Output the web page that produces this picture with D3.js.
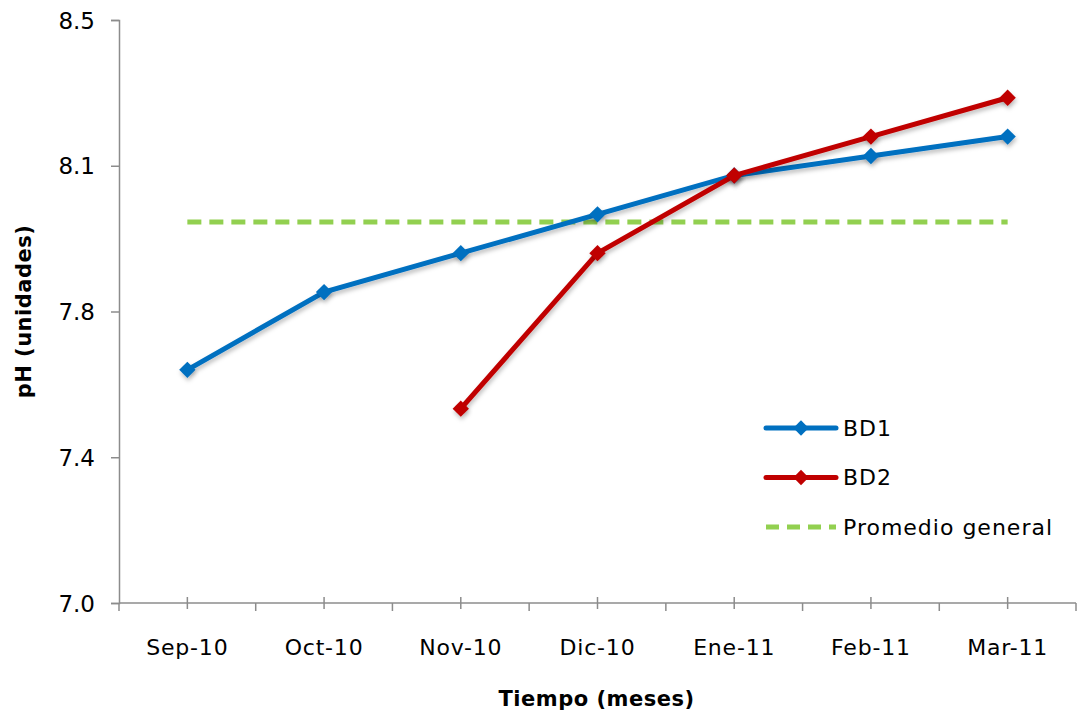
<!DOCTYPE html>
<html>
<head>
<meta charset="utf-8">
<script src="https://cdn.jsdelivr.net/npm/d3@7"></script>
<style>
  body { margin: 0; background: #fff; }
  svg text { font-family: "Century Gothic", "URW Gothic", "DejaVu Sans", sans-serif; fill: #000; }
</style>
</head>
<body>
<script>
// Data
const months = ["Sep-10", "Oct-10", "Nov-10", "Dic-10", "Ene-11", "Feb-11", "Mar-11"];
const bd1 = [7.60, 7.80, 7.90, 8.00, 8.10, 8.15, 8.20];
const bd2 = [null, null, 7.50, 7.90, 8.10, 8.20, 8.30];
const promedio = [7.98, 7.98, 7.98, 7.98, 7.98, 7.98, 7.98];
const yTicks = [7.0, 7.375, 7.75, 8.125, 8.5];
const yTickLabels = ["7.0", "7.4", "7.8", "8.1", "8.5"];

const width = 1078, height = 714;
const margin = { top: 20, right: 2, bottom: 111, left: 119 };
const axisColor = "#8c8c8c";

const svg = d3.select("body").append("svg")
    .attr("width", width)
    .attr("height", height);

// soft shadow like the original markers
const defs = svg.append("defs");
const f = defs.append("filter").attr("id", "shadow")
    .attr("x", "-20%").attr("y", "-20%").attr("width", "140%").attr("height", "160%");
f.append("feDropShadow").attr("dx", 1).attr("dy", 3).attr("stdDeviation", 2)
    .attr("flood-color", "#000").attr("flood-opacity", 0.25);

const x = d3.scaleBand()
    .domain(months)
    .range([margin.left, width - margin.right]);
const cx = m => x(m) + x.bandwidth() / 2;

const y = d3.scaleLinear()
    .domain([7.0, 8.5])
    .range([height - margin.bottom, margin.top]);

// Y axis
const yAxis = svg.append("g")
    .attr("transform", `translate(${margin.left},0)`)
    .call(d3.axisLeft(y).tickValues(yTicks).tickSize(8).tickPadding(16)
        .tickFormat((d, i) => yTickLabels[i]));
yAxis.select(".domain").attr("stroke", axisColor).attr("stroke-width", 1.5);
yAxis.selectAll(".tick line").attr("stroke", axisColor).attr("stroke-width", 1.5);
yAxis.selectAll(".tick text").style("font-size", "23px").attr("dy", "0.35em");

// X axis
const y0 = y(7.0);
const xAxis = svg.append("g").attr("transform", `translate(0,${y0})`);
xAxis.append("line")
    .attr("x1", margin.left).attr("x2", width - margin.right)
    .attr("stroke", axisColor).attr("stroke-width", 1.5);
// boundary ticks
xAxis.selectAll(".bt").data(months.concat(["end"])).join("line")
    .attr("class", "bt")
    .attr("x1", (d, i) => i < months.length ? x(d) : x.range()[1])
    .attr("x2", (d, i) => i < months.length ? x(d) : x.range()[1])
    .attr("y1", 0).attr("y2", 8)
    .attr("stroke", axisColor).attr("stroke-width", 1.5);
// center ticks
xAxis.selectAll(".ct").data(months).join("line")
    .attr("class", "ct")
    .attr("x1", d => cx(d)).attr("x2", d => cx(d))
    .attr("y1", -6).attr("y2", 6)
    .attr("stroke", axisColor).attr("stroke-width", 1.5);
xAxis.selectAll(".lbl").data(months).join("text")
    .attr("class", "lbl")
    .attr("x", d => cx(d))
    .attr("y", 52)
    .attr("text-anchor", "middle")
    .style("font-size", "22px")
    .style("letter-spacing", "0.8px")
    .text(d => d);

// Axis titles
svg.append("text")
    .attr("x", (margin.left + width - margin.right) / 2 - 1)
    .attr("y", 706)
    .attr("text-anchor", "middle")
    .style("font-size", "21px").style("font-weight", "bold")
    .style("letter-spacing", "0.5px")
    .text("Tiempo (meses)");
svg.append("text")
    .attr("transform", `translate(31,${(margin.top + y0) / 2}) rotate(-90)`)
    .attr("text-anchor", "middle")
    .style("font-size", "21px").style("font-weight", "bold")
    .style("letter-spacing", "0.5px")
    .text("pH (unidades)");

const line = d3.line()
    .defined(d => d.v != null)
    .x(d => cx(d.m))
    .y(d => y(d.v));

const series = [
    { name: "BD1", values: bd1, color: "#0070c0", dash: null, marker: true },
    { name: "BD2", values: bd2, color: "#c00000", dash: null, marker: true },
    { name: "Promedio general", values: promedio, color: "#92d050", dash: "14,8", marker: false }
];

// draw the average line first, then BD1, then BD2 on top
[series[2], series[0], series[1]].forEach(s => {
    const pts = months.map((m, i) => ({ m, v: s.values[i] }));
    svg.append("path")
        .datum(pts)
        .attr("fill", "none")
        .attr("stroke", s.color)
        .attr("stroke-width", 5)
        .attr("stroke-dasharray", s.dash)
        .attr("filter", s.marker ? "url(#shadow)" : null)
        .attr("d", line);
    if (s.marker) {
        svg.append("g").selectAll("path")
            .data(pts.filter(d => d.v != null))
            .join("path")
            .attr("transform", d => `translate(${cx(d.m)},${y(d.v)})`)
            .attr("d", d3.symbol(d3.symbolDiamond2, 170))
            .attr("fill", s.color)
            .attr("filter", "url(#shadow)");
    }
});

// Legend
const legend = svg.append("g").attr("transform", "translate(766,428)");
series.forEach((s, i) => {
    const g = legend.append("g").attr("transform", `translate(0,${i * 49.5})`);
    g.append("line")
        .attr("x1", 0).attr("x2", 70)
        .attr("stroke", s.color).attr("stroke-width", 5)
        .attr("stroke-dasharray", s.dash ? "13,8" : null)
        .attr("stroke-linecap", s.dash ? "butt" : "round");
    if (s.marker) {
        g.append("path")
            .attr("transform", "translate(35,0)")
            .attr("d", d3.symbol(d3.symbolDiamond2, 150))
            .attr("fill", s.color);
    }
    g.append("text")
        .attr("x", 77)
        .attr("dy", "0.35em")
        .style("font-size", "22px")
        .style("letter-spacing", "1px")
        .text(s.name);
});
</script>
</body>
</html>
